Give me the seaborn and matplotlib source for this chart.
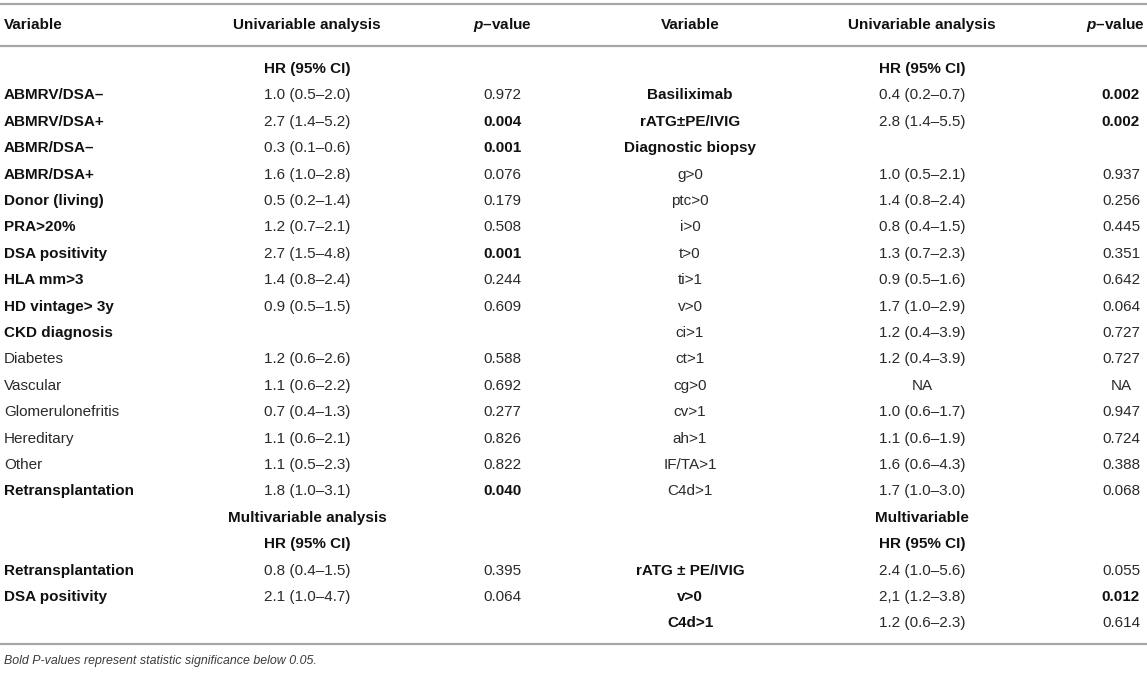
import seaborn as sns
import matplotlib.pyplot as plt

sns.set_theme(style="white")
plt.rcParams['font.family'] = ['Liberation Sans', 'DejaVu Sans']
plt.rcParams['mathtext.fontset'] = 'custom'
plt.rcParams['mathtext.it'] = 'Liberation Sans:italic:bold'

# Left half of the table
left_var = ["", "ABMRV/DSA–", "ABMRV/DSA+", "ABMR/DSA–", "ABMR/DSA+", "Donor (living)",
            "PRA>20%", "DSA positivity", "HLA mm>3", "HD vintage> 3y", "CKD diagnosis",
            "Diabetes", "Vascular", "Glomerulonefritis", "Hereditary", "Other",
            "Retransplantation", "", "", "Retransplantation", "DSA positivity"]
left_hr = ["HR (95% CI)", "1.0 (0.5–2.0)", "2.7 (1.4–5.2)", "0.3 (0.1–0.6)", "1.6 (1.0–2.8)",
           "0.5 (0.2–1.4)", "1.2 (0.7–2.1)", "2.7 (1.5–4.8)", "1.4 (0.8–2.4)", "0.9 (0.5–1.5)",
           "", "1.2 (0.6–2.6)", "1.1 (0.6–2.2)", "0.7 (0.4–1.3)", "1.1 (0.6–2.1)",
           "1.1 (0.5–2.3)", "1.8 (1.0–3.1)", "Multivariable analysis", "HR (95% CI)",
           "0.8 (0.4–1.5)", "2.1 (1.0–4.7)"]
left_p = ["", "0.972", "0.004", "0.001", "0.076", "0.179", "0.508", "0.001", "0.244", "0.609",
          "", "0.588", "0.692", "0.277", "0.826", "0.822", "0.040", "", "", "0.395", "0.064"]
left_sub = ["Diabetes", "Vascular", "Glomerulonefritis", "Hereditary", "Other"]

# Right half of the table
right_var = ["", "Basiliximab", "rATG±PE/IVIG", "Diagnostic biopsy", "g>0", "ptc>0", "i>0",
             "t>0", "ti>1", "v>0", "ci>1", "ct>1", "cg>0", "cv>1", "ah>1", "IF/TA>1", "C4d>1",
             "", "", "rATG ± PE/IVIG", "v>0", "C4d>1"]
right_hr = ["HR (95% CI)", "0.4 (0.2–0.7)", "2.8 (1.4–5.5)", "", "1.0 (0.5–2.1)",
            "1.4 (0.8–2.4)", "0.8 (0.4–1.5)", "1.3 (0.7–2.3)", "0.9 (0.5–1.6)",
            "1.7 (1.0–2.9)", "1.2 (0.4–3.9)", "1.2 (0.4–3.9)", "NA", "1.0 (0.6–1.7)",
            "1.1 (0.6–1.9)", "1.6 (0.6–4.3)", "1.7 (1.0–3.0)", "Multivariable", "HR (95% CI)",
            "2.4 (1.0–5.6)", "2,1 (1.2–3.8)", "1.2 (0.6–2.3)"]
right_p = ["", "0.002", "0.002", "", "0.937", "0.256", "0.445", "0.351", "0.642", "0.064",
           "0.727", "0.727", "NA", "0.947", "0.724", "0.388", "0.068", "", "", "0.055",
           "0.012", "0.614"]
right_sub_rows = range(4, 17)

headers = ["Variable", "Univariable analysis", "$p$–value"]
footnote = "Bold P-values represent statistic significance below 0.05."

W, H = 1147, 673
fig = plt.figure(figsize=(W / 100, H / 100), dpi=100)
ax = fig.add_axes([0, 0, 1, 1])
ax.set_xlim(0, W)
ax.set_ylim(H, 0)
ax.axis('off')

fs = 11
col_b = '#111111'
col_r = '#2a2a2a'
y0, dy = 69, 26.4


def is_sig(p):
    try:
        return float(p) < 0.05
    except ValueError:
        return False


def put(x, y, s, bold, ha='center'):
    ax.text(x, y, s, ha=ha, va='center', fontsize=fs,
            color=col_b if bold else col_r,
            fontweight='bold' if bold else 'normal')


def draw_half(var, hr, p, var_plain, x_var, var_ha, x_hr, x_p):
    for i in range(len(var)):
        y = y0 + i * dy
        if var[i]:
            put(x_var, y, var[i], not var_plain(i), ha=var_ha)
        if hr[i]:
            header_row = not hr[i][0].isdigit() and hr[i] != "NA"
            put(x_hr, y, hr[i], header_row)
        if p[i]:
            put(x_p, y, p[i], is_sig(p[i]))


draw_half(left_var, left_hr, left_p, lambda i: left_var[i] in left_sub, 4, 'left', 307, 502)
draw_half(right_var, right_hr, right_p, lambda i: i in right_sub_rows, 690, 'center', 922, 1121)

# header row
for xv, ha_v, xh, xp in [(4, 'left', 307, 502), (690, 'center', 922, 1115)]:
    put(xv, 25, headers[0], True, ha=ha_v)
    put(xh, 25, headers[1], True)
    put(xp, 25, headers[2], True)

line_col = '#a6a6a6'
for y in [3.5, 46, 644]:
    ax.plot([0, W], [y, y], color=line_col, lw=1.6, solid_capstyle='butt')

ax.text(4, 661, footnote, ha='left', va='center', fontsize=8.9, color='#3a3a3a',
        fontstyle='italic')

fig.savefig('out.png', dpi=100)
